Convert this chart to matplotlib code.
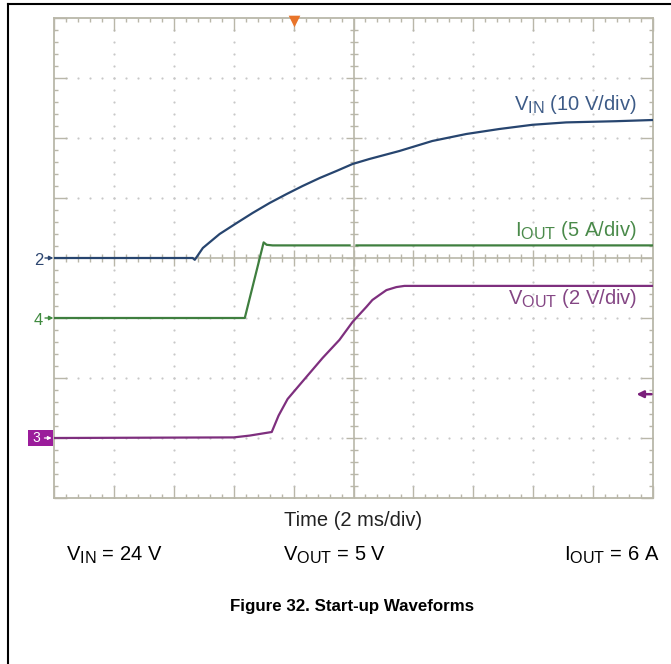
import numpy as np
import matplotlib
matplotlib.use("Agg")
import matplotlib.pyplot as plt
from matplotlib import font_manager
from matplotlib.lines import Line2D
from matplotlib.patches import Rectangle
import matplotlib._mathtext as _mt

plt.rcParams["font.family"] = ["Liberation Sans", "DejaVu Sans"]
plt.rcParams["mathtext.fontset"] = "custom"
plt.rcParams["mathtext.rm"] = "Liberation Sans"
# larger subscripts for the channel names
_mt.SHRINK_FACTOR = 0.8

# ---- scope settings ----
time_per_div = 2.0          # ms/div
vin_scale = 10.0            # V/div
iout_scale = 5.0            # A/div
vout_scale = 2.0            # V/div
vin_offset = 0.0            # div (channel 2 reference)
iout_offset = -1.0          # div (channel 4 reference)
vout_offset = -3.0          # div (channel 3 reference)
trigger_time = 8.0          # ms
trigger_level = -2.27       # div

# ---- captured waveforms ----
t_vin = [0, 4.63, 4.7, 4.97, 5.53, 6.1, 6.63, 7.2, 7.77, 8.3, 8.87, 9.43, 9.97,
         10.53, 11.53, 12.63, 13.77, 14.87, 15.97, 17.1, 18.77, 20.0]
v_in = [0.0, 0.0, -0.3, 1.67, 4.0, 5.83, 7.5, 9.17, 10.67, 12.0, 13.33, 14.5, 15.67,
        16.5, 17.83, 19.5, 20.67, 21.5, 22.2, 22.6, 22.8, 23.0]

t_iout = [0, 6.37, 7.0, 7.1, 7.3, 9.87, np.nan, 10.1, 20.0]
i_out = [0.0, 0.0, 6.3, 6.1, 6.05, 6.05, np.nan, 6.05, 6.05]

t_vout = [0, 6.0, 6.53, 7.27, 7.5, 7.8, 8.2, 8.97, 9.53, 9.97, 10.43, 10.63,
          10.87, 11.1, 11.43, 11.7, 20.0]
v_out = [0.0, 0.02, 0.08, 0.2, 0.75, 1.3, 1.77, 2.67, 3.27, 3.87, 4.37, 4.6,
         4.77, 4.93, 5.03, 5.07, 5.07]

W, H = 671, 664
fig = plt.figure(figsize=(W / 100, H / 100), dpi=100)
fig.patch.set_facecolor("white")

def fx(px):
    return px / W

def fy(py):
    return 1 - py / H

ax = fig.add_axes([fx(54), fy(498), (653 - 54) / W, (498 - 18) / H])
n_xdiv, n_ydiv = 10, 8
xmax = n_xdiv * time_per_div
ax.set_xlim(0, xmax)
ax.set_ylim(-n_ydiv / 2, n_ydiv / 2)

grid_c = "#b9b7a9"
dot_c = "#c8c8c8"

# frame and edge ticks
for s in ax.spines.values():
    s.set_color(grid_c)
    s.set_linewidth(1.3)
ax.set_xticks(np.arange(0, xmax + 0.01, time_per_div))
ax.set_xticks(np.arange(0, xmax + 0.01, time_per_div / 5), minor=True)
ax.set_yticks(np.arange(-4, 4.01, 1))
ax.set_yticks(np.arange(-4, 4.01, 0.2), minor=True)
ax.tick_params(which="both", direction="in", top=True, right=True,
               labelbottom=False, labelleft=False, color=grid_c, width=1.0)
ax.tick_params(which="major", length=9)
ax.tick_params(which="minor", length=3)

# dotted graticule at each division
xs_dots = np.arange(0, xmax + 0.01, time_per_div / 5)
ys_dots = np.arange(-4, 4.01, 0.2)
for k in range(1, n_xdiv):
    if k == n_xdiv // 2:
        continue
    ax.scatter(np.full_like(ys_dots, k * time_per_div), ys_dots, s=2.5,
               color=dot_c, linewidths=0, zorder=1)
for k in range(-3, 4):
    if k == 0:
        continue
    ax.scatter(xs_dots, np.full_like(xs_dots, k), s=2.5, color=dot_c,
               linewidths=0, zorder=1)

# centre cross with fine ticks
xc = xmax / 2
ax.axhline(0, color=grid_c, lw=1.2, zorder=1)
ax.axvline(xc, color=grid_c, lw=1.2, zorder=1)
minor_x = [x for x in xs_dots if abs((x / time_per_div) - round(x / time_per_div)) > 1e-6]
major_x = np.arange(time_per_div, xmax, time_per_div)
ax.scatter(minor_x, np.zeros(len(minor_x)), marker="|", s=30, color=grid_c,
           linewidths=1.0, zorder=1)
ax.scatter(major_x, np.zeros(len(major_x)), marker="|", s=140, color=grid_c,
           linewidths=1.0, zorder=1)
minor_y = [y for y in ys_dots if abs(y - round(y)) > 1e-6]
major_y = np.arange(-3, 4, 1)
ax.scatter(np.full(len(minor_y), xc), minor_y, marker="_", s=30, color=grid_c,
           linewidths=1.0, zorder=1)
ax.scatter(np.full(len(major_y), xc), major_y, marker="_", s=140, color=grid_c,
           linewidths=1.0, zorder=1)

# traces
c_vin, c_iout, c_vout = "#27456f", "#3f7f3f", "#7e2f7e"
ax.plot(t_vin, vin_offset + np.array(v_in) / vin_scale, color=c_vin, lw=1.6, zorder=3)
ax.plot(t_iout, iout_offset + np.array(i_out) / iout_scale, color=c_iout, lw=1.6, zorder=3)
ax.plot(t_vout, vout_offset + np.array(v_out) / vout_scale, color=c_vout, lw=1.6, zorder=3)

# trigger position and level markers
ax.scatter([trigger_time], [4 - 0.05], marker="v", s=70, color="#e8742a",
           clip_on=False, zorder=5, linewidths=0)
ax.annotate("", xy=(xmax - 0.55, trigger_level), xytext=(xmax - 0.05, trigger_level),
            arrowprops=dict(arrowstyle="-|>", color="#7a1f7a", lw=1.8,
                            mutation_scale=10, shrinkA=0, shrinkB=0))

# channel labels inside the graticule
fs = 14.5
fig.text(fx(637), fy(105), r"$\mathregular{V_{IN}}$ (10 V/div)", color="#3d5b87",
         fontsize=fs, ha="right", va="center")
fig.text(fx(637), fy(230), r"$\mathregular{I_{OUT}}$ (5 A/div)", color="#4a8a4a",
         fontsize=fs, ha="right", va="center")
fig.text(fx(637), fy(298), r"$\mathregular{V_{OUT}}$ (2 V/div)", color="#844684",
         fontsize=fs, ha="right", va="center")

# channel reference markers on the left
trans = ax.get_yaxis_transform()
for label, off, col in [("2", vin_offset, "#2d4670"), ("4", iout_offset, "#3f8a3f")]:
    ax.text(-0.018, off - 0.04, label, transform=trans, color=col, fontsize=12,
            ha="right", va="center", clip_on=False)
    ax.annotate("", xy=(-0.001, off), xytext=(-0.015, off), xycoords=trans,
                arrowprops=dict(arrowstyle="-|>", color=col, lw=1.0,
                                mutation_scale=6, shrinkA=0, shrinkB=0),
                annotation_clip=False)
ax.add_patch(Rectangle((-0.043, vout_offset - 0.14), 0.041, 0.28, transform=trans,
                       facecolor="#9b1c9b", edgecolor="none", clip_on=False))
ax.text(-0.029, vout_offset, "3", transform=trans, color="white", fontsize=10,
        ha="center", va="center", clip_on=False)
ax.annotate("", xy=(-0.004, vout_offset), xytext=(-0.016, vout_offset), xycoords=trans,
            arrowprops=dict(arrowstyle="-|>", color="white", lw=0.9,
                            mutation_scale=5, shrinkA=0, shrinkB=0),
            annotation_clip=False)

# captions below the graticule
fig.text(fx(353), fy(521), "Time (2 ms/div)", fontsize=fs, ha="center", va="center",
         color="#222222")
fig.text(fx(66), fy(555), r"$\mathregular{V_{IN}}$ = 24 V", fontsize=fs,
         ha="left", va="center")
fig.text(fx(283), fy(555), r"$\mathregular{V_{OUT}}$ = 5 V", fontsize=fs,
         ha="left", va="center")
fig.text(fx(659), fy(555), r"$\mathregular{I_{OUT}}$ = 6 A", fontsize=fs,
         ha="right", va="center")

# figure caption in a narrow bold face when one is available
narrow = [f.name for f in font_manager.fontManager.ttflist
          if f.name == "Liberation Sans Narrow"]
if narrow:
    fig.text(fx(352), fy(607), "Figure 32. Start-up Waveforms", fontsize=14.5,
             family="Liberation Sans Narrow", fontweight="bold",
             ha="center", va="center")
else:
    fig.text(fx(352), fy(607), "Figure 32. Start-up Waveforms", fontsize=12.2,
             fontweight="bold", ha="center", va="center")

# page frame
fig.add_artist(Line2D([fx(8), fx(8)], [fy(4), 0], color="black", lw=1.5))
fig.add_artist(Line2D([fx(8), 1], [fy(4), fy(4)], color="black", lw=1.5))

fig.savefig("out.png", dpi=100, facecolor="white")
